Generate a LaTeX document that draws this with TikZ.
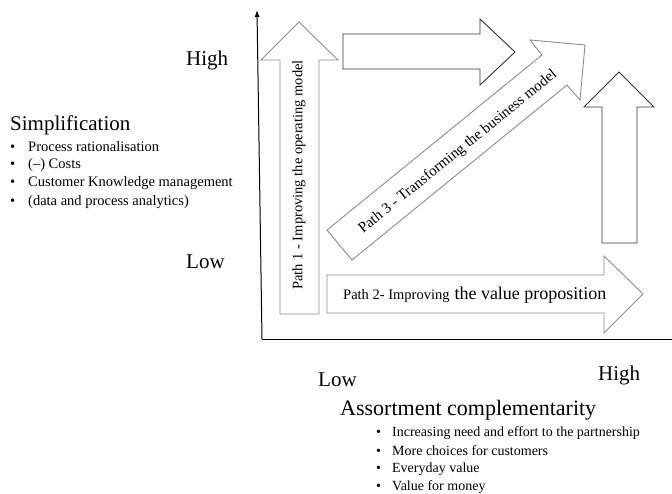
\documentclass[tikz,border=0pt]{standalone}
\usepackage{fontspec}
\setmainfont{Liberation Serif}
\usetikzlibrary{arrows.meta}

\begin{document}
\begin{tikzpicture}[x=1pt,y=-1pt,
  level text/.style={inner sep=0pt,anchor=west,font=\fontsize{21}{25}\selectfont},
  item text/.style={inner sep=0pt,anchor=west,font=\fontsize{14.5}{17}\selectfont},
  path arrow/.style={draw=black!45,line width=0.9pt},
  plain arrow/.style={draw=black!80,line width=0.9pt},
  path text/.style={inner sep=0pt,font=\fontsize{14.5}{17}\selectfont}]
\useasboundingbox (0,0) rectangle (672,493);

% Axes
\coordinate (origin) at (262,339);
\coordinate (ytop) at (257,10);
\coordinate (xend) at (672,339);
\draw[line width=1pt,-{Latex[length=7pt,width=5pt]}] (origin) -- (ytop);
\draw[line width=1pt] (origin) -- (xend);

% Level labels
\node[level text] (yhigh) at (186,60) {High};
\node[level text] (ylow) at (186,262) {Low};
\node[level text] (xlow) at (318,380) {Low};
\node[level text] (xhigh) at (598,375) {High};

% Simplification (vertical axis)
\node[level text] (simp) at (10,125) {Simplification};
\foreach \txt [count=\i] in {Process rationalisation,{(--) Costs},Customer Knowledge management,(data and process analytics)}
  \node[item text] (simp\i) at (10,128.5+18.3*\i) {\makebox[18pt][l]{\textbullet}\txt};

% Assortment complementarity (horizontal axis)
\node[level text,font=\fontsize{22}{26}\selectfont] (assort) at (340,410) {Assortment complementarity};
\foreach \txt [count=\i] in {Increasing need and effort to the partnership,More choices for customers,Everyday value,Value for money}
  \node[item text,font=\fontsize{14}{16}\selectfont] (assort\i) at (376,415+18*\i) {\makebox[16pt][l]{\textbullet}\txt};

% Path 1 - vertical arrow
\draw[path arrow] (280,314) -- (280,60) -- (261,60) -- (299,22) -- (338,60) -- (319,60) -- (319,314) -- cycle;
\node[path text,rotate=90] (path1) at (299,175) {Path 1 - Improving the operating model};

% Path 2 - horizontal arrow
\draw[path arrow] (327,275) -- (604,275) -- (604,256) -- (643,294) -- (604,333) -- (604,313) -- (327,313) -- cycle;
\node[path text,anchor=west] (path2) at (343,295) {{\fontsize{14.5}{17}\selectfont Path 2- Improving}\hspace{5pt}{\fontsize{18}{21}\selectfont the value proposition}};

% Path 3 - diagonal arrow
\draw[path arrow] (327,230) -- (542,55) -- (530,40) -- (585,45) -- (580,100) -- (567,85) -- (352,260) -- cycle;
\node[path text,rotate=39,font=\fontsize{15}{18}\selectfont] (path3) at (458,152) {Path 3 - Transforming the business model};

% Plain arrows
\draw[plain arrow] (343,34) -- (480,34) -- (480,19) -- (515,52) -- (480,85) -- (480,69) -- (343,69) -- cycle;
\draw[plain arrow] (602,243) -- (602,107) -- (584,107) -- (619,72) -- (654,107) -- (637,107) -- (637,243) -- cycle;
\end{tikzpicture}
\end{document}
